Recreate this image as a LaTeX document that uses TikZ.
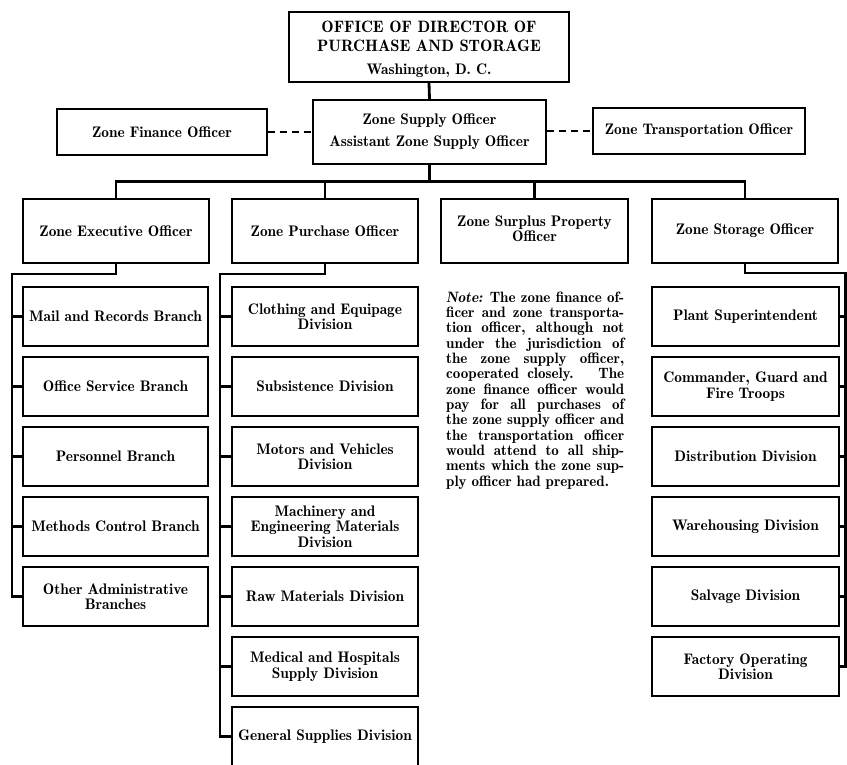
\documentclass[tikz,border=0pt]{standalone}
\usepackage{fontspec}
\newfontfamily\demi{lmromandemi10-regular.otf}
\newfontfamily\demiit{lmromandemi10-oblique.otf}
\begin{document}
\begin{tikzpicture}[x=1pt,y=-1pt,
  box/.style={draw, line width=1.4pt, rectangle, inner sep=1pt, align=center,
    font=\demi\fontsize{15.3}{15.5}\selectfont},
  lbl/.style={inner sep=0pt, font=\demi\fontsize{15.3}{15.5}\selectfont},
  conn/.style={line width=2.8pt},
  dashconn/.style={line width=2.8pt, dash pattern=on 7pt off 5pt}]
\useasboundingbox (0,0) rectangle (847,764);

% top level
\node[box, minimum width=280pt, minimum height=70pt] (top) at (429,47) {};
\node[lbl, font=\demi\fontsize{16.5}{18}\selectfont] (topa) at (429,27) {OFFICE OF DIRECTOR OF};
\node[lbl, font=\demi\fontsize{16.5}{18}\selectfont] (topb) at (429,45.5) {PURCHASE AND STORAGE};
\node[lbl] (topc) at (429,71) {Washington, D. C.};
\node[box, minimum width=233pt, minimum height=64pt] (supply) at (429.5,132)
  {Zone Supply Officer\\[6.5pt] Assistant Zone Supply Officer};
\node[box, minimum width=210pt, minimum height=46pt] (finance) at (162,132)
  {Zone Finance Officer};
\node[box, minimum width=212pt, minimum height=46pt] (transp) at (699,131)
  {Zone Transportation Officer};

% second level
\node[box, minimum width=186pt, minimum height=64pt] (exec) at (116,231)
  {Zone Executive Officer};
\node[box, minimum width=186pt, minimum height=64pt] (purch) at (325,231)
  {Zone Purchase Officer};
\node[box, minimum width=187pt, minimum height=64pt] (surplus) at (534.5,231) {};
\node[lbl] (sura) at (534.5,223) {Zone Surplus Property};
\node[lbl] (surb) at (534.5,236) {Officer};
\node[box, minimum width=186pt, minimum height=64pt] (storage) at (745,231)
  {Zone Storage Officer};

% executive children
\node[box, minimum width=185pt, minimum height=59pt] (e1) at (115.5,316.5) {Mail and Records Branch};
\node[box, minimum width=185pt, minimum height=59pt] (e2) at (115.5,386.5) {Office Service Branch};
\node[box, minimum width=185pt, minimum height=59pt] (e3) at (115.5,456.5) {Personnel Branch};
\node[box, minimum width=185pt, minimum height=59pt] (e4) at (115.5,526.5) {Methods Control Branch};
\node[box, minimum width=185pt, minimum height=59pt] (e5) at (115.5,596.5) {Other Administrative\\ Branches};

% purchase children
\node[box, minimum width=186pt, minimum height=59pt] (p1) at (325,316.5) {Clothing and Equipage\\ Division};
\node[box, minimum width=186pt, minimum height=59pt] (p2) at (325,386.5) {Subsistence Division};
\node[box, minimum width=186pt, minimum height=59pt] (p3) at (325,456.5) {Motors and Vehicles\\ Division};
\node[box, minimum width=186pt, minimum height=59pt] (p4) at (325,526.5) {Machinery and\\ Engineering Materials\\ Division};
\node[box, minimum width=186pt, minimum height=59pt] (p5) at (325,596.5) {Raw Materials Division};
\node[box, minimum width=186pt, minimum height=59pt] (p6) at (325,666.5) {Medical and Hospitals\\ Supply Division};
\node[box, minimum width=186pt, minimum height=59pt] (p7) at (325,736.5) {General Supplies Division};

% storage children
\node[box, minimum width=187pt, minimum height=59pt] (s1) at (745.5,316.5) {Plant Superintendent};
\node[box, minimum width=187pt, minimum height=59pt] (s2) at (745.5,386.5) {Commander, Guard and\\ Fire Troops};
\node[box, minimum width=187pt, minimum height=59pt] (s3) at (745.5,456.5) {Distribution Division};
\node[box, minimum width=187pt, minimum height=59pt] (s4) at (745.5,526.5) {Warehousing Division};
\node[box, minimum width=187pt, minimum height=59pt] (s5) at (745.5,596.5) {Salvage Division};
\node[box, minimum width=187pt, minimum height=59pt] (s6) at (745.5,666.5) {Factory Operating\\ Division};

% note
\node[anchor=north west, inner sep=0pt, align=left,
  font=\demi\fontsize{15}{15.33}\selectfont] (note) at (446,291.5) {%
\makebox[178pt][s]{{\demiit Note:} The zone finance of-}\\
\makebox[178pt][s]{ficer and zone transporta-}\\
\makebox[178pt][s]{tion officer, although not}\\
\makebox[178pt][s]{under the jurisdiction of}\\
\makebox[178pt][s]{the zone supply officer,}\\
\makebox[178pt][s]{cooperated closely. \ The}\\
\makebox[178pt][s]{zone finance officer would}\\
\makebox[178pt][s]{pay for all purchases of}\\
\makebox[178pt][s]{the zone supply officer and}\\
\makebox[178pt][s]{the transportation officer}\\
\makebox[178pt][s]{would attend to all ship-}\\
\makebox[178pt][s]{ments which the zone sup-}\\
ply officer had prepared.};

% connectors top
\draw[conn] (top.south) -- (supply.north);
\draw[dashconn] (finance.east) -- (supply.west |- finance.east);
\draw[dashconn] (supply.east |- transp.west) -- (transp.west);
\coordinate (bus) at (429.5,181.5);
\draw[conn] (supply.south) -- (bus);
\draw[conn] (exec.north) -- (exec.north |- bus) -- (storage.north |- bus) -- (storage.north);
\draw[conn] (purch.north) -- (purch.north |- bus);
\draw[conn] (surplus.north) -- (surplus.north |- bus);

% executive spine
\coordinate (ls) at (12,274);
\draw[conn] (exec.south) |- (ls) -- (ls |- e5.west) -- (e5.west);
\foreach \n in {e1,e2,e3,e4} \draw[conn] (ls |- \n.west) -- (\n.west);

% purchase spine
\coordinate (ps) at (220,274);
\draw[conn] (purch.south) |- (ps) -- (ps |- p7.west) -- (p7.west);
\foreach \n in {p1,p2,p3,p4,p5,p6} \draw[conn] (ps |- \n.west) -- (\n.west);

% storage spine
\coordinate (rs) at (845.5,273);
\draw[conn] (storage.south) |- (rs) -- (rs |- s6.east) -- (s6.east);
\foreach \n in {s1,s2,s3,s4,s5} \draw[conn] (rs |- \n.east) -- (\n.east);
\end{tikzpicture}
\end{document}
